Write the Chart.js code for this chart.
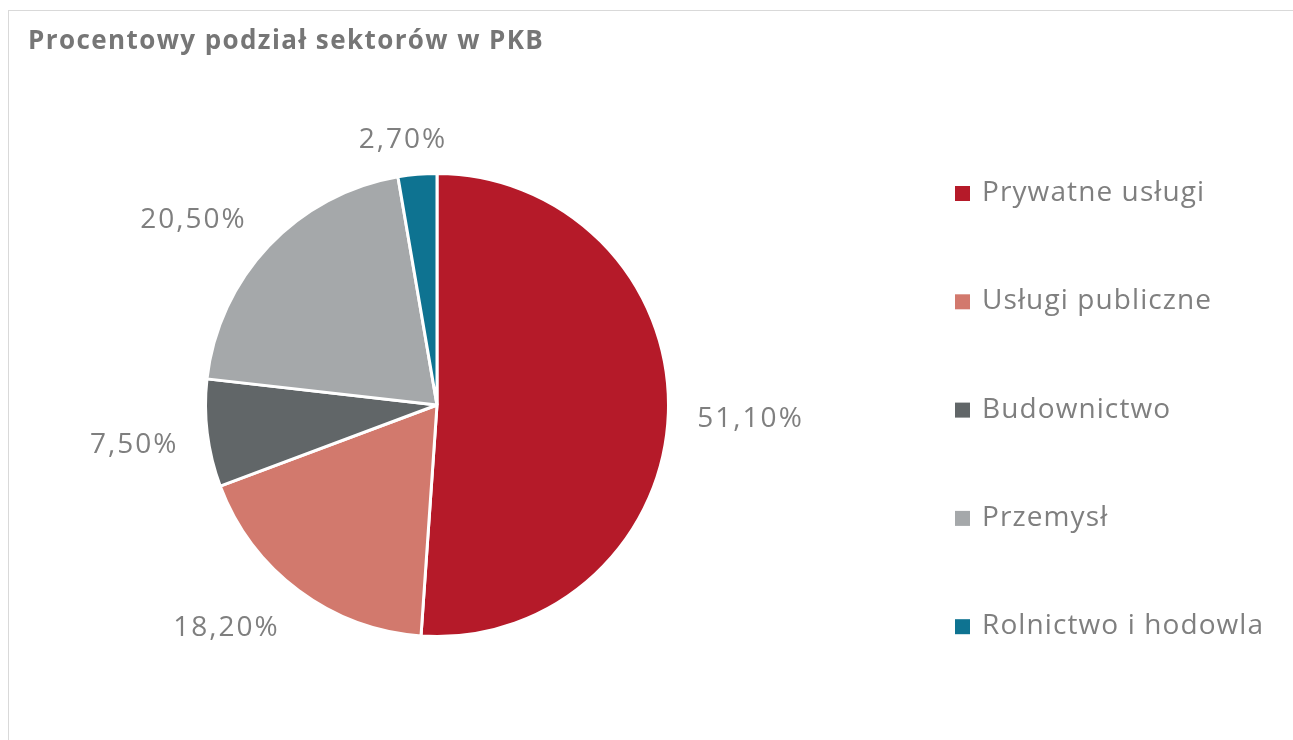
<!DOCTYPE html>
<html>
<head>
<meta charset="utf-8">
<script src="https://cdn.jsdelivr.net/npm/chart.js@4"></script>
<style>
  html, body { margin: 0; padding: 0; background: #fff; overflow: hidden; }
  #frame { position: absolute; left: 8px; top: 10px; width: 1400px; height: 800px; border: 1px solid #d9d9d9; }
  #pie { position: absolute; left: 0; top: 0; }
</style>
</head>
<body>
<div id="frame"></div>
<canvas id="pie" width="1293" height="740"></canvas>
<script>
// Data
const sectors = ['Prywatne usługi', 'Usługi publiczne', 'Budownictwo', 'Przemysł', 'Rolnictwo i hodowla'];
const shares = [51.1, 18.2, 7.5, 20.5, 2.7];
const sectorColors = ['#B51A29', '#D2796D', '#616668', '#A5A8AA', '#0E7391'];

const textGrey = '#7f7f7f';
const fontFamily = '"Open Sans", Lato, sans-serif';

function pctLabel(v) {
  return v.toFixed(2).replace('.', ',') + '%';
}

function clamp1(v) {
  return Math.max(-1, Math.min(1, v));
}

// Percent labels outside each slice (nearest box corner sits just off the rim)
const outsideLabels = {
  id: 'outsideLabels',
  afterDatasetsDraw(chart) {
    const ctx = chart.ctx;
    const meta = chart.getDatasetMeta(0);
    ctx.save();
    ctx.font = '28px ' + fontFamily;
    ctx.letterSpacing = '2px';
    ctx.fillStyle = textGrey;
    ctx.textAlign = 'center';
    ctx.textBaseline = 'middle';
    meta.data.forEach((arc, i) => {
      const mid = (arc.startAngle + arc.endAngle) / 2;
      const text = pctLabel(shares[i]);
      const w = ctx.measureText(text).width;
      const h = 26;
      const c = Math.cos(mid), s = Math.sin(mid);
      const rr = arc.outerRadius + 25;
      const x = arc.x + c * rr + clamp1(c * 3) * (w / 2 + 4);
      const y = arc.y + s * rr + clamp1(s * 3) * h / 2 + 4;
      ctx.fillText(text, x, y);
    });
    ctx.restore();
  }
};

// Legend on the right with wide spacing
const sideLegend = {
  id: 'sideLegend',
  afterDraw(chart) {
    const ctx = chart.ctx;
    ctx.save();
    ctx.font = '28px ' + fontFamily;
    ctx.letterSpacing = '1.1px';
    ctx.textBaseline = 'middle';
    sectors.forEach((name, i) => {
      const y = 193 + i * 108.3;
      ctx.fillStyle = sectorColors[i];
      ctx.fillRect(955, y - 7, 15, 15);
      ctx.fillStyle = textGrey;
      ctx.fillText(name, 982, y);
    });
    ctx.restore();
  }
};

// Title top-left
const topTitle = {
  id: 'topTitle',
  afterDraw(chart) {
    const ctx = chart.ctx;
    ctx.save();
    ctx.font = 'bold 26px ' + fontFamily;
    ctx.letterSpacing = '1.4px';
    ctx.fillStyle = '#767676';
    ctx.textBaseline = 'middle';
    ctx.fillText('Procentowy podział sektorów w PKB', 28, 42);
    ctx.restore();
  }
};

new Chart(document.getElementById('pie').getContext('2d'), {
  type: 'pie',
  data: {
    labels: sectors,
    datasets: [{
      data: shares,
      backgroundColor: sectorColors,
      borderColor: '#ffffff',
      borderWidth: 3
    }]
  },
  options: {
    responsive: false,
    animation: false,
    layout: { padding: { left: 204, right: 623, top: 172, bottom: 102 } },
    plugins: {
      legend: { display: false },
      tooltip: { enabled: false },
      title: { display: false }
    }
  },
  plugins: [outsideLabels, sideLegend, topTitle]
});
</script>
</body>
</html>
